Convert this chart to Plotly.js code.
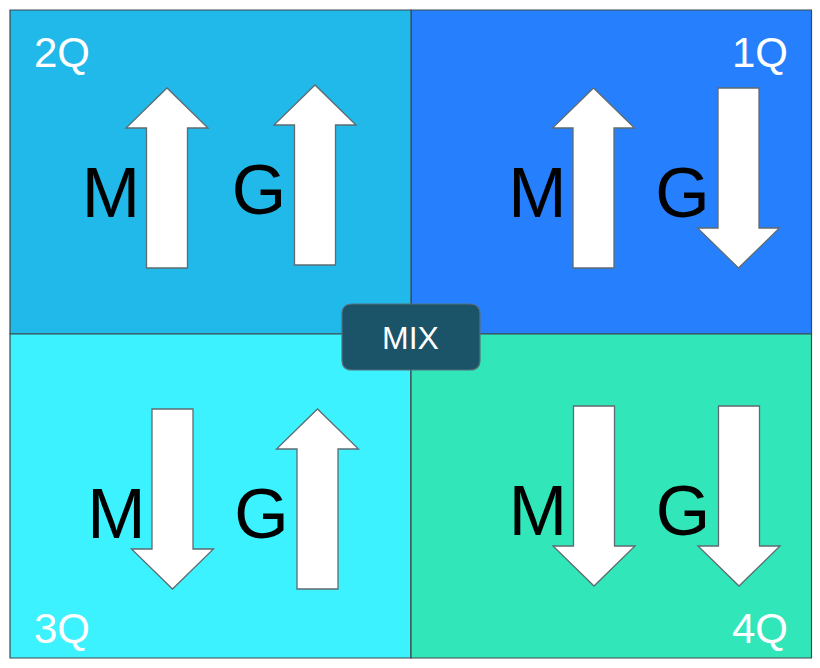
<!DOCTYPE html>
<html>
<head>
<meta charset="utf-8">
<script src="https://cdn.plot.ly/plotly-3.0.1.min.js"></script>
<style>
  html, body { margin: 0; padding: 0; background: #ffffff; }
  #chart { width: 820px; height: 668px; }
</style>
</head>
<body>
<div id="chart"></div>
<script>
// quadrant data: label, fill, direction of M and of G
var quadrants   = ["1Q", "2Q", "3Q", "4Q"];
var quadColors  = ["#2680fe", "#20b9e9", "#3bf2fe", "#31e6b9"];
var mDirection  = ["up", "up", "down", "down"];
var gDirection  = ["down", "up", "up", "down"];
var arrowNames  = ["M", "G"];
var centerLabel = "MIX";

// layout (pixel space of the picture)
var frame = { x0: 10, xm: 411, x1: 811.5, y0: 10, ym: 334, y1: 658 };
var quadCol = [1, 0, 0, 1];
var quadRow = [0, 0, 1, 1];
var arrowX  = [[593.5, 738.5], [167, 315], [172.5, 317.5], [594, 739]];
var arrowTop = [[88, 88], [88, 85], [409, 409], [406, 406]];
var arrowLen = 180, headLen = 40, shaftHalf = 20.5, headHalf = 41;

function arrowPath(cx, top, dir) {
    var bottom = top + arrowLen;
    var p;
    if (dir === "up") {
        var hb = top + headLen;
        p = [[cx - shaftHalf, bottom], [cx - shaftHalf, hb], [cx - headHalf, hb], [cx, top],
             [cx + headHalf, hb], [cx + shaftHalf, hb], [cx + shaftHalf, bottom]];
    } else {
        var hb2 = bottom - headLen;
        p = [[cx - shaftHalf, top], [cx - shaftHalf, hb2], [cx - headHalf, hb2], [cx, bottom],
             [cx + headHalf, hb2], [cx + shaftHalf, hb2], [cx + shaftHalf, top]];
    }
    return "M" + p.map(function (q) { return q[0] + "," + q[1]; }).join("L") + "Z";
}

var shapes = [];
var annotations = [];
var letterX = [], letterY = [], letterText = [];

for (var i = 0; i < quadrants.length; i++) {
    var qx0 = quadCol[i] === 0 ? frame.x0 : frame.xm;
    var qx1 = quadCol[i] === 0 ? frame.xm : frame.x1;
    var qy0 = quadRow[i] === 0 ? frame.y0 : frame.ym;
    var qy1 = quadRow[i] === 0 ? frame.ym : frame.y1;
    shapes.push({
        type: "rect", xref: "x", yref: "y", layer: "below",
        x0: qx0, x1: qx1, y0: qy0, y1: qy1,
        fillcolor: quadColors[i],
        line: { color: "#3f484c", width: 1.2 }
    });

    var dirs = [mDirection[i], gDirection[i]];
    for (var k = 0; k < 2; k++) {
        shapes.push({
            type: "path", xref: "x", yref: "y",
            path: arrowPath(arrowX[i][k], arrowTop[i][k], dirs[k]),
            fillcolor: "#ffffff",
            line: { color: "#5f6b70", width: 1.3 }
        });
        letterX.push(arrowX[i][k] - 56);
        letterY.push(arrowTop[i][k] + arrowLen / 2 + 21);
        letterText.push(arrowNames[k]);
    }

    var left = quadCol[i] === 0;
    annotations.push({
        xref: "x", yref: "y",
        x: left ? 32 : 790,
        y: quadRow[i] === 0 ? 52 : 628,
        xanchor: left ? "left" : "right", yanchor: "middle",
        text: quadrants[i], showarrow: false,
        font: { family: "Liberation Sans, Arial, sans-serif", size: 42, color: "#ffffff" }
    });
}

// center box
shapes.push({
    type: "path", xref: "x", yref: "y",
    path: "M352,304L470,304Q480,304 480,314L480,360Q480,370 470,370L352,370Q342,370 342,360L342,314Q342,304 352,304Z",
    fillcolor: "#1b5369",
    line: { color: "#56707c", width: 1.2 }
});
annotations.push({
    xref: "x", yref: "y", x: 410.5, y: 338,
    xanchor: "center", yanchor: "middle",
    text: centerLabel, showarrow: false,
    font: { family: "Liberation Sans, Arial, sans-serif", size: 32, color: "#ffffff" }
});

var trace = {
    x: letterX, y: letterY, text: letterText,
    type: "scatter", mode: "text",
    textposition: "middle center",
    textfont: { family: "Liberation Sans, Arial, sans-serif", size: 70, color: "#000000" },
    hoverinfo: "skip", showlegend: false
};

var layout = {
    width: 820, height: 668,
    margin: { l: 0, r: 0, t: 0, b: 0 },
    paper_bgcolor: "#ffffff", plot_bgcolor: "#ffffff",
    xaxis: { range: [0, 820], visible: false, fixedrange: true },
    yaxis: { range: [668, 0], visible: false, fixedrange: true },
    shapes: shapes,
    annotations: annotations,
    showlegend: false
};

Plotly.newPlot("chart", [trace], layout, { displayModeBar: false, staticPlot: true });
</script>
</body>
</html>
